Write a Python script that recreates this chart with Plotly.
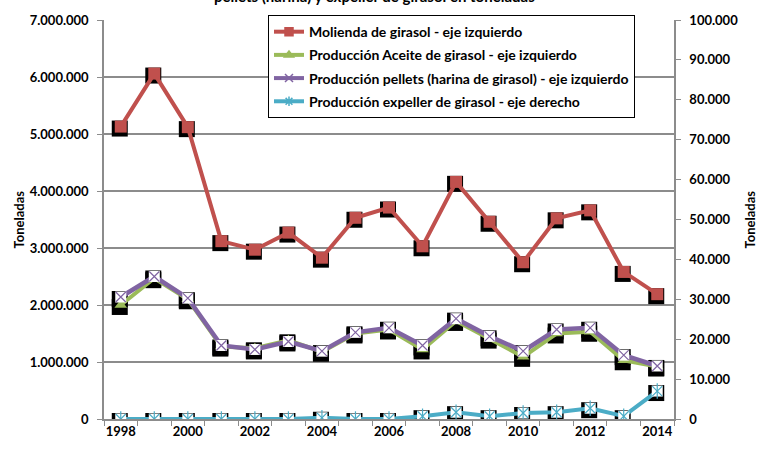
import plotly.graph_objects as go

years = list(range(1998, 2015))
molienda = [5130000, 6060000, 5120000, 3120000, 2970000, 3270000, 2830000, 3530000, 3710000,
            3030000, 4160000, 3460000, 2750000, 3520000, 3660000, 2580000, 2190000]
aceite = [2000000, 2470000, 2100000, 1270000, 1240000, 1380000, 1180000, 1500000, 1570000,
          1220000, 1720000, 1410000, 1090000, 1500000, 1530000, 1030000, 920000]
pellets = [2140000, 2500000, 2120000, 1290000, 1220000, 1360000, 1190000, 1520000, 1600000,
           1290000, 1760000, 1450000, 1190000, 1570000, 1600000, 1120000, 930000]
expeller = [0, 0, 0, 0, 0, 0, 300, 0, 0, 700, 1700, 700, 1500, 1700, 2700, 700, 7000]

names = ["Molienda de girasol - eje izquierdo",
         "Producción Aceite de girasol - eje izquierdo",
         "Producción pellets (harina de girasol) - eje izquierdo",
         "Producción expeller de girasol - eje derecho"]
xtick_labels = [str(y) for y in range(1998, 2015, 2)]
title_text = "pellets (harina) y expeller de girasol en toneladas"

RED, GREEN, PURPLE, BLUE = "#C0504D", "#9BBB59", "#8064A2", "#4BACC6"
GRID = "#8C8C8C"
FONT = "Lato"

W, H = 761, 451
ML, MR, MT, MB = 104, 87, 20, 25
PW, PH = W - ML - MR, H - MT - MB

XR = [1997.5, 2014.5]
YL = [0, 7000000]
YR = [0, 100000]
# shadow offset: 1px left, 2px down
dx = 1 * (XR[1] - XR[0]) / PW
dyl = 2 * (YL[1] - YL[0]) / PH
dyr = 2 * (YR[1] - YR[0]) / PH

fig = go.Figure()

SH = dict(mode="markers", showlegend=False, hoverinfo="skip",
          marker=dict(symbol="square", size=16, color="black"))
# shadows (drawn first)
for ser in (molienda, aceite, pellets):
    fig.add_trace(go.Scatter(x=years, y=ser, xaxis="x", yaxis="y", **SH))
fig.add_trace(go.Scatter(x=years, y=expeller, xaxis="x", yaxis="y3", **SH))

# real series
fig.add_trace(go.Scatter(x=years, y=molienda, xaxis="x2", yaxis="y2", mode="lines+markers",
                         showlegend=False, line=dict(color=RED, width=4),
                         marker=dict(symbol="square", size=12, color=RED)))
fig.add_trace(go.Scatter(x=years, y=aceite, xaxis="x2", yaxis="y2", mode="lines+markers",
                         showlegend=False, line=dict(color=GREEN, width=4),
                         marker=dict(symbol="triangle-up", size=11, color=GREEN)))
fig.add_trace(go.Scatter(x=years, y=pellets, xaxis="x2", yaxis="y2", mode="lines+markers",
                         showlegend=False, line=dict(color=PURPLE, width=4.5),
                         marker=dict(symbol="square", size=11, color="white")))
fig.add_trace(go.Scatter(x=years, y=pellets, xaxis="x2", yaxis="y2", mode="markers",
                         showlegend=False,
                         marker=dict(symbol="x-thin-open", size=10, color=PURPLE,
                                     line=dict(color="#A48CC4", width=1.2))))
fig.add_trace(go.Scatter(x=years, y=expeller, xaxis="x2", yaxis="y4", mode="lines+markers",
                         showlegend=False, line=dict(color=BLUE, width=4),
                         marker=dict(symbol="square", size=11, color="white")))
fig.add_trace(go.Scatter(x=years, y=expeller, xaxis="x2", yaxis="y4", mode="markers",
                         showlegend=False,
                         marker=dict(symbol="x-thin-open", size=10, color=BLUE,
                                     line=dict(color="#7FCCE0", width=1.2))))
fig.add_trace(go.Scatter(x=years, y=expeller, xaxis="x2", yaxis="y4", mode="markers",
                         showlegend=False,
                         marker=dict(symbol="line-ns-open", size=11, color=BLUE,
                                     line=dict(color="#7FCCE0", width=1.2))))

# legend-only entries
leg = [(names[0], RED, "square"), (names[1], GREEN, "triangle-up"),
       (names[2], PURPLE, "x-thin-open"), (names[3], BLUE, "asterisk-open")]
for i, (nm, col, sym) in enumerate(leg):
    fig.add_trace(go.Scatter(x=[None], y=[None], xaxis="x2", yaxis="y2", mode="lines+markers",
                             name=nm, legendgroup=f"g{i}", line=dict(color=col, width=4),
                             marker=dict(symbol=sym, size=8, color=col,
                                         line=dict(color=col, width=1.5))))

tickfont = dict(family=FONT, size=13, color="black", weight="bold")

fig.update_layout(
    width=W, height=H,
    margin=dict(l=ML, r=MR, t=MT, b=MB, pad=0),
    paper_bgcolor="white", plot_bgcolor="white",
    separators=",.",
    font=dict(family=FONT, size=13, color="black"),
    xaxis=dict(range=[XR[0] + dx, XR[1] + dx], visible=False, fixedrange=True),
    yaxis=dict(range=[YL[0] + dyl, YL[1] + dyl], visible=False),
    yaxis3=dict(range=[YR[0] + dyr, YR[1] + dyr], visible=False, overlaying="y"),
    xaxis2=dict(range=XR, overlaying="x", showgrid=False, zeroline=False,
                showline=True, linecolor=GRID, linewidth=1.5,
                tickvals=list(range(1998, 2015, 2)), ticktext=xtick_labels,
                ticks="", tickfont=tickfont,
                minor=dict(tick0=1997.5, dtick=1, ticks="outside", ticklen=5,
                           tickcolor=GRID, tickwidth=1, showgrid=False)),
    yaxis2=dict(range=YL, overlaying="y", side="left", dtick=1000000, tickformat=",d",
                showgrid=True, gridcolor=GRID, gridwidth=1.5, zeroline=False,
                showline=True, linecolor=GRID, linewidth=1.5,
                ticks="outside", ticklen=5, tickcolor=GRID, tickfont=tickfont,
                ticklabelstandoff=6),
    yaxis4=dict(range=YR, overlaying="y", side="right", anchor="x2", dtick=10000,
                tickformat=",d", showgrid=False, zeroline=False,
                showline=True, linecolor=GRID, linewidth=1.5,
                ticks="outside", ticklen=5, tickcolor=GRID, tickfont=tickfont,
                ticklabelstandoff=6),
    legend=dict(x=(268 - ML) / PW, y=(H - MB - 15) / PH, xanchor="left", yanchor="top",
                bgcolor="white", bordercolor="black", borderwidth=1,
                font=dict(family=FONT, size=14, color="black", weight="bold"),
                itemwidth=30, tracegroupgap=2, traceorder="grouped"),
    showlegend=True,
    annotations=[
        dict(text="Toneladas", xref="paper", yref="paper", x=(18 - ML) / PW, y=0.5,
             textangle=-90, showarrow=False, xanchor="center", yanchor="middle",
             font=dict(family=FONT, size=13, color="black", weight="bold")),
        dict(text="Toneladas", xref="paper", yref="paper", x=(749 - ML) / PW, y=0.5,
             textangle=-90, showarrow=False, xanchor="center", yanchor="middle",
             font=dict(family=FONT, size=13, color="black", weight="bold")),
        dict(text=title_text, xref="paper", yref="paper", x=(374 - ML) / PW,
             y=(H - MB - 7) / PH, showarrow=False, xanchor="center", yanchor="bottom",
             font=dict(family=FONT, size=15, color="black", weight="bold")),
    ],
)

fig.write_html("out.html", config={"displayModeBar": False},
               post_script="document.body.style.margin='0';")
